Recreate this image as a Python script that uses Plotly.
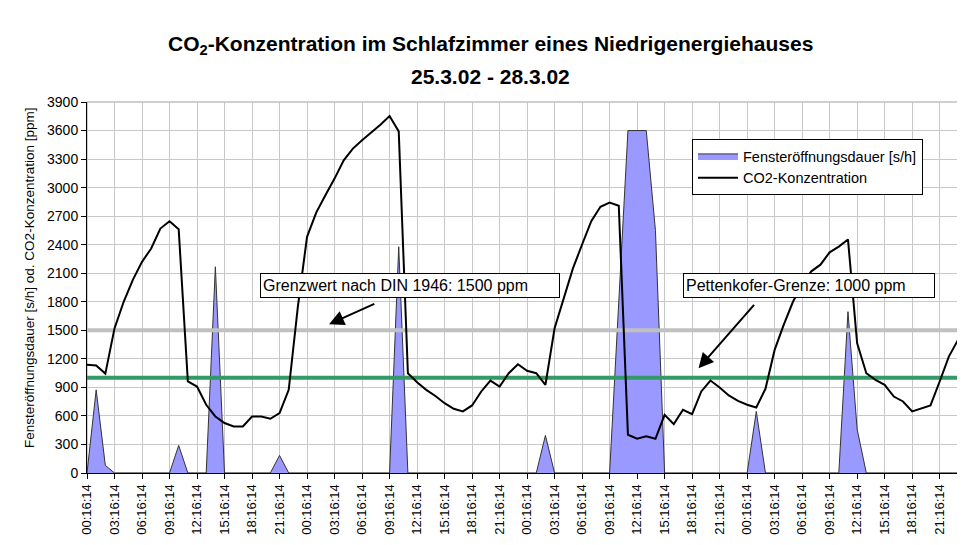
import plotly.graph_objects as go

# hourly measurements, 96 hours starting 25.3.02 00:16:14
co2_ppm = [
    1137, 1130, 1045, 1520, 1800, 2030, 2220, 2360, 2570, 2647, 2563, 962,
    909, 717, 594, 525, 490, 490, 594, 594, 570, 630, 874, 1750,
    2483, 2738, 2920, 3095, 3287, 3410, 3497, 3577, 3661, 3752, 3591, 1049,
    955, 874, 810, 734, 675, 647, 710, 857, 972, 909, 1049, 1143,
    1074, 1049, 927, 1521, 1836, 2151, 2402, 2647, 2798, 2843, 2810, 402,
    360, 385, 360, 612, 514, 664, 619, 857, 972, 899, 815, 759,
    717, 689, 885, 1294, 1560, 1800, 1980, 2120, 2190, 2320, 2380, 2455,
    1364, 1049, 979, 927, 804, 752, 647, 675, 710, 962, 1224, 1399,
]
window_open_s_per_h = [
    0, 874, 80, 0, 0, 0, 0, 0, 0, 0, 290, 0,
    0, 0, 2168, 0, 0, 0, 0, 0, 0, 185, 0, 0,
    0, 0, 0, 0, 0, 0, 0, 0, 0, 0, 2378, 0,
    0, 0, 0, 0, 0, 0, 0, 0, 0, 0, 0, 0,
    0, 0, 395, 0, 0, 0, 0, 0, 0, 0, 1800, 3600,
    3600, 3600, 2550, 0, 0, 0, 0, 0, 0, 0, 0, 0,
    0, 647, 0, 0, 0, 0, 0, 0, 0, 0, 0, 1696,
    460, 0, 0, 0, 0, 0, 0, 0, 0, 0, 0, 0,
]
din_limit = [1500] * len(co2_ppm)
pettenkofer_limit = [1000] * len(co2_ppm)

tick_labels = [
    "00:16:14", "03:16:14", "06:16:14", "09:16:14", "12:16:14", "15:16:14", "18:16:14", "21:16:14",
    "00:16:14", "03:16:14", "06:16:14", "09:16:14", "12:16:14", "15:16:14", "18:16:14", "21:16:14",
    "00:16:14", "03:16:14", "06:16:14", "09:16:14", "12:16:14", "15:16:14", "18:16:14", "21:16:14",
    "00:16:14", "03:16:14", "06:16:14", "09:16:14", "12:16:14", "15:16:14", "18:16:14", "21:16:14",
]
hours = list(range(len(co2_ppm)))
tick_positions = hours[::3][:len(tick_labels)]

FONT = "Liberation Sans, Arial, sans-serif"

fig = go.Figure()
fig.add_trace(go.Scatter(
    x=hours, y=window_open_s_per_h, mode="lines", name="Fensteröffnungsdauer [s/h]",
    fill="tozeroy", fillcolor="#9999FF", line=dict(color="#333333", width=1),
))
fig.add_trace(go.Scatter(
    x=hours, y=din_limit, mode="lines", showlegend=False,
    line=dict(color="#C0C0C0", width=4),
))
fig.add_trace(go.Scatter(
    x=hours, y=pettenkofer_limit, mode="lines", showlegend=False,
    line=dict(color="#339966", width=4),
))
fig.add_trace(go.Scatter(
    x=hours, y=co2_ppm, mode="lines", name="CO2-Konzentration",
    line=dict(color="black", width=2),
))

# helpers: window pixel -> paper fraction (plot area spans x 87..958, y 102..473 in the window)
def px_x(p):
    return (p - 87) / 871

def px_y(p):
    return (473 - p) / 371

annotations = [
    dict(text="<b>CO<sub>2</sub>-Konzentration im Schlafzimmer eines Niedrigenergiehauses</b>",
         xref="paper", yref="paper", x=px_x(490), y=px_y(45), xanchor="center", yanchor="middle",
         showarrow=False, font=dict(size=21, color="black", family=FONT)),
    dict(text="<b>25.3.02 - 28.3.02</b>",
         xref="paper", yref="paper", x=px_x(490), y=px_y(76), xanchor="center", yanchor="middle",
         showarrow=False, font=dict(size=21, color="black", family=FONT)),
    dict(text="Fensteröffnungsdauer [s/h] od. CO2-Konzentration [ppm]",
         xref="paper", yref="paper", x=px_x(29), y=px_y(278), xanchor="center", yanchor="middle",
         showarrow=False, textangle=-90, font=dict(size=13.5, color="black", family=FONT)),
    dict(text="Grenzwert nach DIN 1946: 1500 ppm",
         xref="paper", yref="paper", x=px_x(260), y=px_y(285.5), xanchor="left", yanchor="middle",
         showarrow=False, align="left", width=294, height=19, borderpad=2,
         bordercolor="black", borderwidth=1, bgcolor="white",
         font=dict(size=16, color="black", family=FONT)),
    dict(text="Pettenkofer-Grenze: 1000 ppm",
         xref="paper", yref="paper", x=px_x(683), y=px_y(285.5), xanchor="left", yanchor="middle",
         showarrow=False, align="left", width=246, height=19, borderpad=2,
         bordercolor="black", borderwidth=1, bgcolor="white",
         font=dict(size=16, color="black", family=FONT)),
    dict(text="", x=26.4, y=1564, axref="x", ayref="y", ax=31.5, ay=1784,
         xref="x", yref="y", showarrow=True, arrowhead=2, arrowsize=1.5,
         arrowwidth=2, arrowcolor="black"),
    dict(text="", x=66.7, y=1101, axref="x", ayref="y", ax=72.9, ay=1784,
         xref="x", yref="y", showarrow=True, arrowhead=2, arrowsize=1.5,
         arrowwidth=2, arrowcolor="black"),
]

# the page body has an 8px margin, so the figure is 957x537 placed at (8, 8)
fig.update_layout(
    width=957, height=537,
    margin=dict(l=79, r=7, t=94, b=72, autoexpand=False),
    paper_bgcolor="white", plot_bgcolor="white",
    font=dict(family=FONT, color="black"),
    showlegend=True,
    legend=dict(x=px_x(692), y=px_y(139), xanchor="left", yanchor="top",
                bgcolor="white", bordercolor="black", borderwidth=1,
                font=dict(size=14.5, color="black", family=FONT),
                itemwidth=40, tracegroupgap=0),
    annotations=annotations,
    shapes=[
        dict(type="rect", xref="paper", yref="paper", x0=0, x1=1, y0=0, y1=1,
             line=dict(color="#A0A0A0", width=1), layer="below"),
    ],
)
fig.update_xaxes(
    range=[0, len(co2_ppm) - 1], tickmode="array", tickvals=tick_positions, ticktext=tick_labels,
    tickangle=-90, tickfont=dict(size=13, color="black", family=FONT),
    showgrid=True, gridcolor="#C8C8C8", gridwidth=1, automargin=False,
    showline=True, linecolor="black", linewidth=1, ticks="outside", ticklen=5, tickcolor="black",
    zeroline=False,
)
fig.update_yaxes(
    range=[0, 3900], tick0=0, dtick=300, automargin=False,
    tickfont=dict(size=14, color="black", family=FONT),
    showgrid=True, gridcolor="#C8C8C8", gridwidth=1,
    showline=True, linecolor="black", linewidth=1, ticks="outside", ticklen=5, tickcolor="black",
    zeroline=False,
)

fig.write_html("out.html")
